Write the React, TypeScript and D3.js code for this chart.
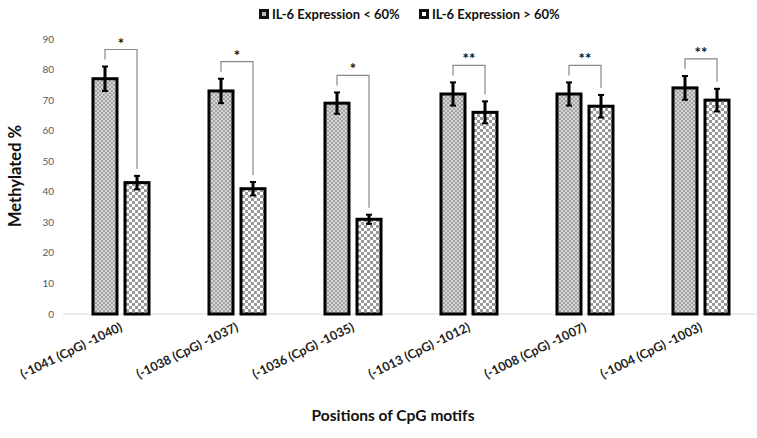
import React from "react";
import * as d3 from "d3";

const categories = [
  "(-1041 (CpG) -1040)",
  "(-1038 (CpG) -1037)",
  "(-1036 (CpG) -1035)",
  "(-1013 (CpG) -1012)",
  "(-1008 (CpG) -1007)",
  "(-1004 (CpG) -1003)",
];
const seriesNames = ["IL-6 Expression < 60%", "IL-6 Expression > 60%"];
const lowValues = [77, 73, 69, 72, 72, 74];
const lowErrors = [4, 4, 3.5, 3.8, 3.8, 3.9];
const highValues = [43, 41, 31, 66, 68, 70];
const highErrors = [2.2, 2.2, 1.5, 3.6, 3.7, 3.7];
const significance = ["*", "*", "*", "**", "**", "**"];
const yTicks = [0, 10, 20, 30, 40, 50, 60, 70, 80, 90];

const W = 757;
const H = 438;
const FONT = "Lato, 'Open Sans', sans-serif";

export default function App() {
  const y = d3.scaleLinear().domain([0, 90]).range([314, 39]);
  const x0 = d3
    .scaleBand<string>()
    .domain(categories)
    .range([63, 759])
    .paddingInner(0.517)
    .paddingOuter(0.2585);
  const x1 = d3
    .scaleBand<number>()
    .domain([0, 1])
    .range([0, x0.bandwidth()])
    .paddingInner(0.25)
    .paddingOuter(0);

  const series = [
    { values: lowValues, errors: lowErrors, fill: "url(#patFine)" },
    { values: highValues, errors: highErrors, fill: "url(#patCoarse)" },
  ];

  return (
    <svg
      width={W}
      height={H}
      style={{ position: "absolute", left: 0, top: 0, background: "#fff" }}
      fontFamily={FONT}
    >
      <defs>
        <pattern id="patFine" width="4" height="4" patternUnits="userSpaceOnUse">
          <rect width="4" height="4" fill="#d6d6d6" />
          <rect width="2" height="2" fill="#a2a2a2" />
          <rect x="2" y="2" width="2" height="2" fill="#a2a2a2" />
        </pattern>
        <pattern id="patCoarse" width="6" height="6" patternUnits="userSpaceOnUse">
          <rect width="6" height="6" fill="#ffffff" />
          <rect width="3" height="3" fill="#9a9a9a" />
          <rect x="3" y="3" width="3" height="3" fill="#9a9a9a" />
        </pattern>
      </defs>

      {/* Legend */}
      {seriesNames.map((name, i) => {
        const lx = i === 0 ? 259 : 419;
        return (
          <g key={name}>
            <rect x={lx} y={9} width={10} height={10} fill="#111" />
            <rect
              x={lx + 3}
              y={12}
              width={4}
              height={4}
              fill={i === 0 ? "#bbb" : "#fff"}
            />
            <text
              x={lx + 13}
              y={18.5}
              fontSize={13}
              fontWeight="bold"
              fill="#111"
            >
              {name}
            </text>
          </g>
        );
      })}

      {/* Y axis ticks */}
      {yTicks.map((t) => (
        <text
          key={t}
          x={54}
          y={y(t) + 3.5}
          fontSize={10}
          textAnchor="end"
          fill="#595959"
        >
          {t}
        </text>
      ))}

      {/* baseline */}
      <line x1={63} x2={757} y1={y(0)} y2={y(0)} stroke="#d9d9d9" strokeWidth={1} />

      {/* Bars */}
      {categories.map((c, ci) => (
        <g key={c} transform={`translate(${x0(c)},0)`}>
          {series.map((s, si) => {
            const bx = x1(si)!;
            const bw = x1.bandwidth();
            const v = s.values[ci];
            const e = s.errors[ci];
            const cx = bx + bw / 2;
            return (
              <g key={si}>
                <rect
                  x={bx}
                  y={y(v)}
                  width={bw}
                  height={y(0) - y(v)}
                  fill={s.fill}
                  stroke="#000"
                  strokeWidth={3}
                />
                <line x1={cx} x2={cx} y1={y(v + e)} y2={y(v - e)} stroke="#000" strokeWidth={3} />
                <line x1={cx - 3} x2={cx + 3} y1={y(v + e)} y2={y(v + e)} stroke="#000" strokeWidth={2} />
                <line x1={cx - 3} x2={cx + 3} y1={y(v - e)} y2={y(v - e)} stroke="#000" strokeWidth={2} />
              </g>
            );
          })}
          {(() => {
            const bw = x1.bandwidth();
            const cA = x1(0)! + bw / 2;
            const cB = x1(1)! + bw / 2;
            const topA = y(lowValues[ci] + lowErrors[ci]);
            const topB = y(highValues[ci] + highErrors[ci]);
            const by = Math.min(topA, topB) - 17;
            return (
              <g>
                <path
                  d={`M${cA},${topA - 7}V${by}H${cB}V${topB - 7}`}
                  fill="none"
                  stroke="#888"
                  strokeWidth={1.2}
                />
                <text
                  x={(cA + cB) / 2}
                  y={by - 1}
                  fontSize={15}
                  fontWeight="bold"
                  textAnchor="middle"
                  fill="#111"
                >
                  {significance[ci]}
                </text>
              </g>
            );
          })()}
        </g>
      ))}

      {/* X tick labels */}
      {categories.map((c) => {
        const cx = x0(c)! + x0.bandwidth() / 2;
        return (
          <text
            key={c}
            transform={`translate(${cx + 2},${330}) rotate(-26)`}
            fontSize={12.5}
            fontWeight="bold"
            textAnchor="end"
            fill="#222"
          >
            {c}
          </text>
        );
      })}

      {/* Axis titles */}
      <text
        transform={`translate(21,${176}) rotate(-90)`}
        fontSize={16.5}
        fontWeight="bold"
        textAnchor="middle"
        fill="#111"
      >
        Methylated %
      </text>
      <text x={393} y={421} fontSize={15.5} fontWeight="bold" textAnchor="middle" fill="#111">
        Positions of CpG motifs
      </text>
    </svg>
  );
}
